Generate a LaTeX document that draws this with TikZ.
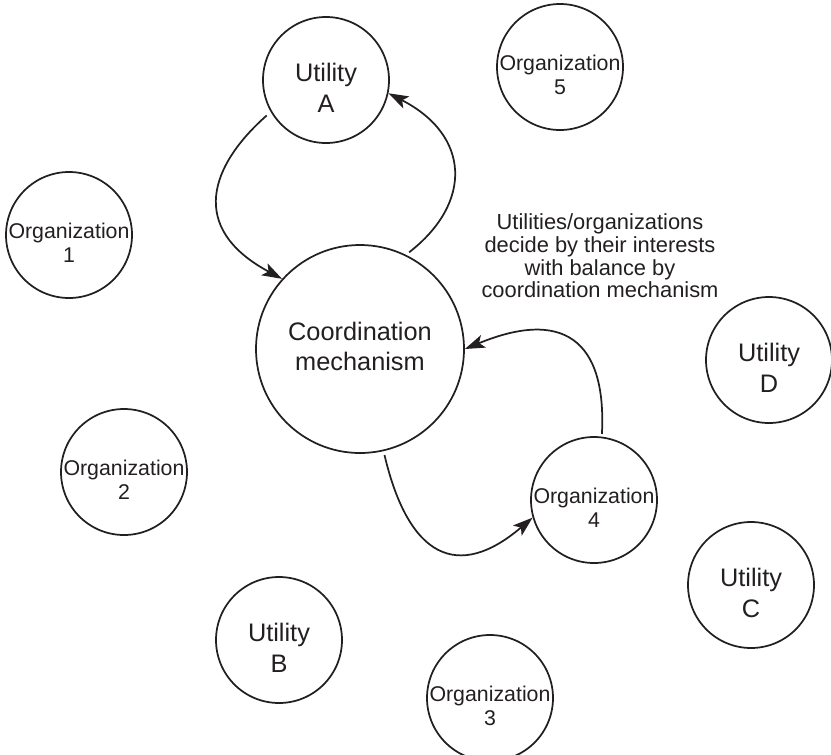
\documentclass[tikz,border=0pt]{standalone}
\usepackage{fontspec}
\setmainfont{Liberation Sans}
\usetikzlibrary{arrows.meta}
\definecolor{ink}{HTML}{231F20}
\begin{document}
\begin{tikzpicture}[x=0.75pt,y=-0.75pt,
  ring/.style={circle,draw=ink,line width=1.3pt,minimum size=94.5pt,inner sep=0pt},
  bigring/.style={ring,minimum size=156pt},
  utxt/.style={text=ink,align=center,font=\fontsize{19}{23}\selectfont,inner sep=0pt},
  otxt/.style={text=ink,align=center,font=\fontsize{16}{18}\selectfont,inner sep=0pt},
  ntxt/.style={text=ink,align=center,font=\fontsize{16.4}{17}\selectfont,inner sep=0pt},
  link/.style={draw=ink,line width=1.3pt,-{Stealth[length=15pt,width=10pt,inset=3.5pt]}},
]
\useasboundingbox (0,0) rectangle (831,754);

% circles
\node[bigring] (cm) at (360,349) {};
\node[ring] (ua) at (326,80) {};
\node[ring] (ub) at (279,640) {};
\node[ring] (uc) at (751,585) {};
\node[ring] (ud) at (769,360) {};
\node[ring] (o1) at (69,235) {};
\node[ring] (o2) at (124,472) {};
\node[ring] (o3) at (490,698) {};
\node[ring] (o4) at (594,500) {};
\node[ring] (o5) at (560,67) {};

% circle labels
\node[utxt] (cmt) at ([yshift=2pt]cm.center) {Coordination\\mechanism};
\node[utxt] (uat) at ([yshift=-6pt]ua.center) {Utility\\A};
\node[utxt] (ubt) at ([yshift=-6pt]ub.center) {Utility\\B};
\node[utxt] (uct) at ([yshift=-6pt]uc.center) {Utility\\C};
\node[utxt] (udt) at ([yshift=-6pt]ud.center) {Utility\\D};
\node[otxt] (o1t) at ([yshift=-6pt]o1.center) {Organization\\1};
\node[otxt] (o2t) at ([yshift=-6pt]o2.center) {Organization\\2};
\node[otxt] (o3t) at ([yshift=-6pt]o3.center) {Organization\\3};
\node[otxt] (o4t) at ([yshift=-6pt]o4.center) {Organization\\4};
\node[otxt] (o5t) at ([yshift=-6pt]o5.center) {Organization\\5};

% note
\node[ntxt] (note) at (600,256) {Utilities/organizations\\decide by their interests\\with balance by\\coordination mechanism};

% exchange loops
\draw[link,shorten <=4pt] (ua.210) .. controls +(-60,53) and +(-95,-51) .. (cm.138);
\draw[link,shorten <=3pt] (cm.64) .. controls +(67,-52) and +(82,42) .. (ua.348);
\draw[link,shorten <=2pt] (o4.83) .. controls +(5,-98) and +(97,-40) .. (cm.0);
\draw[link,shorten <=3pt] (cm.283) .. controls +(25,106) and +(-75,64) .. (o4.196);
\end{tikzpicture}
\end{document}
